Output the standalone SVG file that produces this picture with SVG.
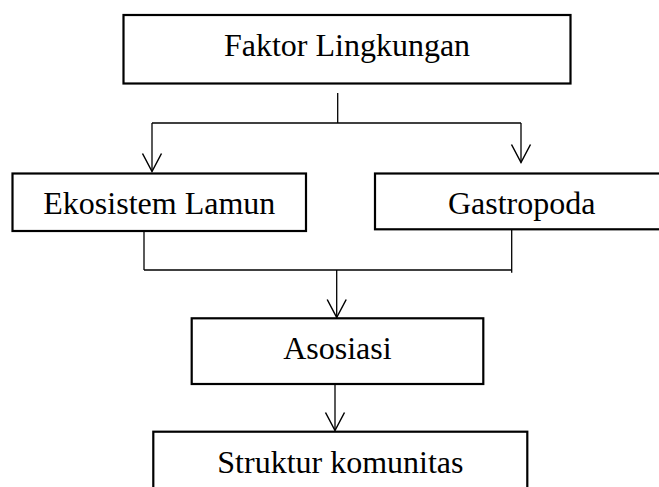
<svg xmlns="http://www.w3.org/2000/svg" width="659" height="487" viewBox="0 0 659 487">
<defs>
<style>
.box{fill:#fff;stroke:#000;stroke-width:2.2}
.lbl{font-family:"Liberation Serif","Times New Roman",serif;font-size:32px;fill:#000;text-anchor:middle}
.conn{fill:none;stroke:#000;stroke-width:1.3}
</style>
<marker id="arr" markerUnits="userSpaceOnUse" markerWidth="20" markerHeight="20" refX="0" refY="0" orient="auto" overflow="visible">
<path d="M-18,-9.5 L0,0 L-18,9.5" fill="none" stroke="#000" stroke-width="1.5"/>
</marker>
</defs>
<rect width="659" height="487" fill="#fff"/>
<g id="connectors">
<path class="conn" d="M337.7 93 V123"/>
<path class="conn" d="M152 123 H521"/>
<path class="conn" d="M152 123 V171.5" marker-end="url(#arr)"/>
<path class="conn" d="M521 123 V162.5" marker-end="url(#arr)"/>
<path class="conn" d="M144 231 V270"/>
<path class="conn" d="M511.7 229 V272.7"/>
<path class="conn" d="M144 270 H511.7"/>
<path class="conn" d="M336.7 270 V317.5" marker-end="url(#arr)"/>
<path class="conn" d="M335 382 V430.5" marker-end="url(#arr)"/>
</g>
<g id="faktor">
<rect class="box" x="123.5" y="15" width="447" height="68.5"/>
<text class="lbl" x="347" y="56">Faktor Lingkungan</text>
</g>
<g id="ekosistem">
<rect class="box" x="12.5" y="173.5" width="293.5" height="57.5"/>
<text class="lbl" x="159.3" y="214">Ekosistem Lamun</text>
</g>
<g id="gastropoda">
<rect class="box" x="375" y="173.5" width="295" height="55.8"/>
<text class="lbl" x="521.7" y="213.5">Gastropoda</text>
</g>
<g id="asosiasi">
<rect class="box" x="191.7" y="318.3" width="291.6" height="65.7"/>
<text class="lbl" x="337.4" y="359.3">Asosiasi</text>
</g>
<g id="struktur">
<rect class="box" x="153.3" y="431.7" width="374" height="80"/>
<text class="lbl" x="340.4" y="473.3">Struktur komunitas</text>
</g>
</svg>
